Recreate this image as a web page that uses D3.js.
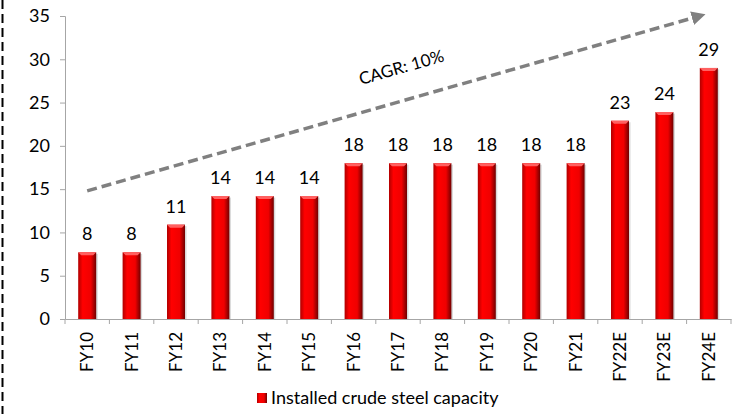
<!DOCTYPE html>
<html>
<head>
  <meta charset="utf-8">
  <title>Installed crude steel capacity</title>
  <style>
    body { margin: 0; background: #fff; }
    text { font-family: Lato, "Open Sans", sans-serif; }
  </style>
</head>
<body>
  <div id='chart'></div>
  <script src="https://d3js.org/d3.v7.min.js"></script>
  <script>
    let years = ['FY10', 'FY11', 'FY12', 'FY13', 'FY14', 'FY15', 'FY16', 'FY17', 'FY18', 'FY19', 'FY20', 'FY21', 'FY22E', 'FY23E', 'FY24E'];
    let capacity = [7.7, 7.7, 10.9, 14.2, 14.2, 14.2, 18, 18, 18, 18, 18, 18, 22.9, 23.9, 29];
    let labels = ['8', '8', '11', '14', '14', '14', '18', '18', '18', '18', '18', '18', '23', '24', '29'];
    let yTicks = [0, 5, 10, 15, 20, 25, 30, 35];
    let seriesName = 'Installed crude steel capacity';
    let cagrText = 'CAGR: 10%';
    let trendFrom = 14.8, trendTo = 35.2;

    let svgWidth = 739, svgHeight = 414;
    let margin = {top: 16, left: 65, right: 8, bottom: 95};
    let width = svgWidth - margin.left - margin.right;
    let height = svgHeight - margin.top - margin.bottom;

    let svg = d3.select('#chart').append('svg')
      .attr('width', svgWidth)
      .attr('height', svgHeight);

    // dashed border on the left
    svg.append('line')
      .attr('x1', 2.5).attr('x2', 2.5)
      .attr('y1', 0).attr('y2', svgHeight)
      .attr('stroke', '#000').attr('stroke-width', 2)
      .attr('stroke-dasharray', '9,5');

    let defs = svg.append('defs');
    let grad = defs.append('linearGradient').attr('id', 'barGrad')
      .attr('x1', '0').attr('x2', '1').attr('y1', '0').attr('y2', '0');
    grad.append('stop').attr('offset', '0%').attr('stop-color', '#b00000');
    grad.append('stop').attr('offset', '25%').attr('stop-color', '#ff0000');
    grad.append('stop').attr('offset', '70%').attr('stop-color', '#f00000');
    grad.append('stop').attr('offset', '100%').attr('stop-color', '#700000');

    defs.append('marker').attr('id', 'arrow')
      .attr('viewBox', '0 0 10 10').attr('refX', 5).attr('refY', 5)
      .attr('markerWidth', 4).attr('markerHeight', 4)
      .attr('orient', 'auto')
      .append('path').attr('d', 'M0,0L10,5L0,10Z').attr('fill', '#808080');

    let g = svg.append('g').attr('transform', 'translate(' + margin.left + ',' + margin.top + ')');

    let x = d3.scaleBand().domain(years).range([0, width]);
    let y = d3.scaleLinear().domain([0, 35]).range([height, 0]);
    let barW = 18;

    // y axis
    let yAxis = g.append('g')
      .call(d3.axisLeft(y).tickValues(yTicks).tickSize(5).tickPadding(10));
    yAxis.select('.domain').attr('stroke', '#a6a6a6');
    yAxis.selectAll('.tick line').attr('stroke', '#a6a6a6');
    yAxis.selectAll('text').style('font-size', '18px').attr('fill', '#000');

    // x axis
    let xAxis = g.append('g').attr('transform', 'translate(0,' + height + ')')
      .call(d3.axisBottom(x).tickSize(0).tickFormat(''));
    xAxis.select('.domain').attr('stroke', '#a6a6a6');
    xAxis.selectAll('.xt').data(years.concat(['end'])).enter().append('line')
      .attr('x1', (d, i) => i * x.step()).attr('x2', (d, i) => i * x.step())
      .attr('y1', 0).attr('y2', 5).attr('stroke', '#a6a6a6');
    xAxis.selectAll('.xl').data(years).enter().append('text')
      .attr('transform', d => 'translate(' + (x(d) + x.bandwidth() / 2 + 6) + ',13) rotate(-90)')
      .attr('text-anchor', 'end')
      .attr('fill', '#000')
      .style('font-size', '17px')
      .text(d => d);

    // bars
    let bars = g.selectAll('.bar').data(capacity).enter().append('g');
    bars.append('rect')
      .attr('x', (d, i) => x(years[i]) + x.bandwidth() / 2 - barW / 2 + 1.5)
      .attr('y', d => y(d) + 1.5)
      .attr('width', barW).attr('height', d => height - y(d) - 1.5)
      .attr('fill', '#d9d9d9');
    bars.append('rect')
      .attr('x', (d, i) => x(years[i]) + x.bandwidth() / 2 - barW / 2)
      .attr('y', d => y(d))
      .attr('width', barW).attr('height', d => height - y(d))
      .attr('fill', 'url(#barGrad)');
    bars.append('path')
      .attr('d', (d, i) => {
        let cx = x(years[i]) + x.bandwidth() / 2;
        let top = y(d);
        return 'M' + (cx - barW / 2) + ',' + top + 'L' + (cx + barW / 2) + ',' + top +
          'L' + (cx + barW / 2 - 3) + ',' + (top + 3) + 'L' + (cx - barW / 2 + 3) + ',' + (top + 3) + 'Z';
      })
      .attr('fill', '#ff6060');

    // value labels
    g.selectAll('.val').data(capacity).enter().append('text')
      .attr('x', (d, i) => x(years[i]) + x.bandwidth() / 2)
      .attr('y', d => y(d) - 12)
      .attr('text-anchor', 'middle')
      .attr('fill', '#000')
      .style('font-size', '18px')
      .text((d, i) => labels[i]);

    // CAGR trend arrow
    let x0 = x(years[0]) + x.bandwidth() / 2;
    let x1 = x(years[years.length - 1]) + x.bandwidth() / 2 - 4;
    g.append('line')
      .attr('x1', x0).attr('y1', y(trendFrom))
      .attr('x2', x1 - 6).attr('y2', y(trendTo) + 2)
      .attr('stroke', '#808080').attr('stroke-width', 3.5)
      .attr('stroke-dasharray', '10,5')
      .attr('marker-end', 'url(#arrow)');

    let angle = Math.atan2(y(trendTo) - y(trendFrom), x1 - x0) * 180 / Math.PI;
    g.append('text')
      .attr('transform', 'translate(' + 338 + ',' + 57 + ') rotate(' + angle + ')')
      .attr('text-anchor', 'middle')
      .attr('fill', '#000')
      .style('font-size', '17px')
      .text(cagrText);

    // legend
    let legend = svg.append('g').attr('transform', 'translate(257,393)');
    legend.append('rect').attr('width', 10).attr('height', 10).attr('fill', 'url(#barGrad)');
    legend.append('text').attr('x', 14).attr('y', 11)
      .attr('fill', '#000').style('font-size', '18px').text(seriesName);
  </script>
</body>
</html>
